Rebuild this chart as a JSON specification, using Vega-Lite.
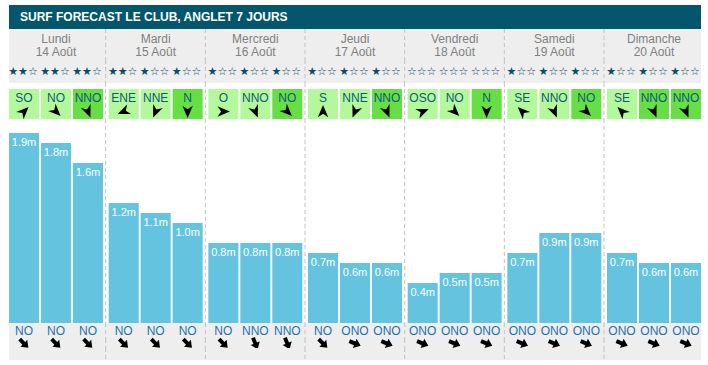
{
  "$schema": "https://vega.github.io/schema/vega-lite/v6.json",
  "padding": {"left": 8, "top": 5, "right": 8, "bottom": 5},
  "background": "white",
  "spacing": 0,
  "bounds": "flush",
  "datasets": {
    "jours": [
      {"jour": "Lundi", "date": "14 Août"},
      {"jour": "Mardi", "date": "15 Août"},
      {"jour": "Mercredi", "date": "16 Août"},
      {"jour": "Jeudi", "date": "17 Août"},
      {"jour": "Vendredi", "date": "18 Août"},
      {"jour": "Samedi", "date": "19 Août"},
      {"jour": "Dimanche", "date": "20 Août"}
    ],
    "creneaux": [
      {"jour": "Lundi", "session": 1, "etoiles": "★★☆", "vent": "SO", "deg_vent": 225, "intensite": "modéré", "houle": 1.9, "dir_houle": "NO", "deg_houle": 315},
      {"jour": "Lundi", "session": 2, "etoiles": "★★☆", "vent": "NO", "deg_vent": 315, "intensite": "modéré", "houle": 1.8, "dir_houle": "NO", "deg_houle": 315},
      {"jour": "Lundi", "session": 3, "etoiles": "★★☆", "vent": "NNO", "deg_vent": 337.5, "intensite": "fort", "houle": 1.6, "dir_houle": "NO", "deg_houle": 315},
      {"jour": "Mardi", "session": 1, "etoiles": "★★☆", "vent": "ENE", "deg_vent": 67.5, "intensite": "modéré", "houle": 1.2, "dir_houle": "NO", "deg_houle": 315},
      {"jour": "Mardi", "session": 2, "etoiles": "★☆☆", "vent": "NNE", "deg_vent": 22.5, "intensite": "modéré", "houle": 1.1, "dir_houle": "NO", "deg_houle": 315},
      {"jour": "Mardi", "session": 3, "etoiles": "★☆☆", "vent": "N", "deg_vent": 0, "intensite": "fort", "houle": 1.0, "dir_houle": "NO", "deg_houle": 315},
      {"jour": "Mercredi", "session": 1, "etoiles": "★☆☆", "vent": "O", "deg_vent": 270, "intensite": "modéré", "houle": 0.8, "dir_houle": "NO", "deg_houle": 315},
      {"jour": "Mercredi", "session": 2, "etoiles": "★☆☆", "vent": "NNO", "deg_vent": 337.5, "intensite": "modéré", "houle": 0.8, "dir_houle": "NNO", "deg_houle": 337.5},
      {"jour": "Mercredi", "session": 3, "etoiles": "★☆☆", "vent": "NO", "deg_vent": 315, "intensite": "fort", "houle": 0.8, "dir_houle": "NNO", "deg_houle": 337.5},
      {"jour": "Jeudi", "session": 1, "etoiles": "★☆☆", "vent": "S", "deg_vent": 180, "intensite": "modéré", "houle": 0.7, "dir_houle": "NO", "deg_houle": 315},
      {"jour": "Jeudi", "session": 2, "etoiles": "★☆☆", "vent": "NNE", "deg_vent": 22.5, "intensite": "modéré", "houle": 0.6, "dir_houle": "ONO", "deg_houle": 292.5},
      {"jour": "Jeudi", "session": 3, "etoiles": "★☆☆", "vent": "NNO", "deg_vent": 337.5, "intensite": "fort", "houle": 0.6, "dir_houle": "ONO", "deg_houle": 292.5},
      {"jour": "Vendredi", "session": 1, "etoiles": "☆☆☆", "vent": "OSO", "deg_vent": 247.5, "intensite": "modéré", "houle": 0.4, "dir_houle": "ONO", "deg_houle": 292.5},
      {"jour": "Vendredi", "session": 2, "etoiles": "☆☆☆", "vent": "NO", "deg_vent": 315, "intensite": "modéré", "houle": 0.5, "dir_houle": "ONO", "deg_houle": 292.5},
      {"jour": "Vendredi", "session": 3, "etoiles": "☆☆☆", "vent": "N", "deg_vent": 0, "intensite": "fort", "houle": 0.5, "dir_houle": "ONO", "deg_houle": 292.5},
      {"jour": "Samedi", "session": 1, "etoiles": "★☆☆", "vent": "SE", "deg_vent": 135, "intensite": "modéré", "houle": 0.7, "dir_houle": "ONO", "deg_houle": 292.5},
      {"jour": "Samedi", "session": 2, "etoiles": "★☆☆", "vent": "NNO", "deg_vent": 337.5, "intensite": "modéré", "houle": 0.9, "dir_houle": "ONO", "deg_houle": 292.5},
      {"jour": "Samedi", "session": 3, "etoiles": "★☆☆", "vent": "NO", "deg_vent": 315, "intensite": "fort", "houle": 0.9, "dir_houle": "ONO", "deg_houle": 292.5},
      {"jour": "Dimanche", "session": 1, "etoiles": "★☆☆", "vent": "SE", "deg_vent": 135, "intensite": "modéré", "houle": 0.7, "dir_houle": "ONO", "deg_houle": 292.5},
      {"jour": "Dimanche", "session": 2, "etoiles": "★☆☆", "vent": "NNO", "deg_vent": 337.5, "intensite": "fort", "houle": 0.6, "dir_houle": "ONO", "deg_houle": 292.5},
      {"jour": "Dimanche", "session": 3, "etoiles": "★☆☆", "vent": "NNO", "deg_vent": 337.5, "intensite": "fort", "houle": 0.6, "dir_houle": "ONO", "deg_houle": 292.5}
    ]
  },
  "vconcat": [
    {
      "width": 692, "height": 24,
      "view": {"fill": "#03566b", "stroke": null},
      "data": {"values": [{"titre": "SURF FORECAST LE CLUB, ANGLET 7 JOURS"}]},
      "mark": {"type": "text", "align": "left", "baseline": "middle", "dx": 11, "fontWeight": "bold", "fontSize": 12, "color": "white"},
      "encoding": {
        "x": {"datum": 0, "type": "quantitative", "scale": {"domain": [0, 1]}, "axis": null},
        "text": {"field": "titre"}
      }
    },
    {
      "width": 692, "height": 31,
      "view": {"fill": "#eeeeee", "stroke": null},
      "layer": [
        {
          "data": {"name": "jours"},
          "transform": [{"filter": "datum.jour !== 'Lundi'"}],
          "mark": {"type": "rule", "strokeDash": [4, 3], "color": "#c2c2c2", "xOffset": -3},
          "encoding": {"x": {"field": "jour", "type": "nominal", "bandPosition": 0, "scale": {"domain": ["Lundi", "Mardi", "Mercredi", "Jeudi", "Vendredi", "Samedi", "Dimanche"], "paddingInner": 0.0569, "paddingOuter": 0}, "axis": null}}
        },
        {
          "data": {"name": "jours"},
          "mark": {"type": "text", "baseline": "middle", "dy": -6, "fontSize": 12, "color": "#808080"},
          "encoding": {
            "x": {"field": "jour", "type": "nominal", "scale": {"domain": ["Lundi", "Mardi", "Mercredi", "Jeudi", "Vendredi", "Samedi", "Dimanche"], "paddingInner": 0.0569, "paddingOuter": 0}, "axis": null},
            "text": {"field": "jour"}
          }
        },
        {
          "data": {"name": "jours"},
          "mark": {"type": "text", "baseline": "middle", "dy": 7, "fontSize": 12, "color": "#808080"},
          "encoding": {
            "x": {"field": "jour", "type": "nominal", "scale": {"domain": ["Lundi", "Mardi", "Mercredi", "Jeudi", "Vendredi", "Samedi", "Dimanche"], "paddingInner": 0.0569, "paddingOuter": 0}, "axis": null},
            "text": {"field": "date"}
          }
        }
      ]
    },
    {
      "width": 692, "height": 23,
      "view": {"fill": "#eeeeee", "stroke": null},
      "layer": [
        {
          "data": {"name": "jours"},
          "transform": [{"filter": "datum.jour !== 'Lundi'"}],
          "mark": {"type": "rule", "strokeDash": [4, 3], "color": "#c2c2c2", "xOffset": -3},
          "encoding": {"x": {"field": "jour", "type": "nominal", "bandPosition": 0, "scale": {"domain": ["Lundi", "Mardi", "Mercredi", "Jeudi", "Vendredi", "Samedi", "Dimanche"], "paddingInner": 0.0569, "paddingOuter": 0}, "axis": null}}
        },
        {
          "data": {"name": "creneaux"},
          "mark": {"type": "text", "baseline": "middle", "dx": -1, "font": "DejaVu Sans", "fontSize": 11, "color": "#0e4d66"},
          "encoding": {
            "x": {"field": "jour", "type": "nominal", "scale": {"domain": ["Lundi", "Mardi", "Mercredi", "Jeudi", "Vendredi", "Samedi", "Dimanche"], "paddingInner": 0.0569, "paddingOuter": 0}, "axis": null},
            "xOffset": {"field": "session", "type": "nominal", "scale": {"domain": [1, 2, 3], "paddingInner": 0.06, "paddingOuter": 0}},
            "text": {"field": "etoiles"}
          }
        }
      ]
    },
    {
      "width": 692, "height": 6,
      "data": {"name": "jours"},
      "transform": [{"filter": "datum.jour !== 'Lundi'"}],
      "mark": {"type": "rule", "strokeDash": [4, 3], "color": "#c2c2c2", "xOffset": -3},
      "encoding": {"x": {"field": "jour", "type": "nominal", "bandPosition": 0, "scale": {"domain": ["Lundi", "Mardi", "Mercredi", "Jeudi", "Vendredi", "Samedi", "Dimanche"], "paddingInner": 0.0569, "paddingOuter": 0}, "axis": null}}
    },
    {
      "width": 692, "height": 15,
      "layer": [
        {
          "data": {"name": "jours"},
          "transform": [{"filter": "datum.jour !== 'Lundi'"}],
          "mark": {"type": "rule", "strokeDash": [4, 3], "color": "#c2c2c2", "xOffset": -3},
          "encoding": {"x": {"field": "jour", "type": "nominal", "bandPosition": 0, "scale": {"domain": ["Lundi", "Mardi", "Mercredi", "Jeudi", "Vendredi", "Samedi", "Dimanche"], "paddingInner": 0.0569, "paddingOuter": 0}, "axis": null}}
        },
        {
          "data": {"name": "creneaux"},
          "mark": {"type": "bar"},
          "encoding": {
            "x": {"field": "jour", "type": "nominal", "scale": {"domain": ["Lundi", "Mardi", "Mercredi", "Jeudi", "Vendredi", "Samedi", "Dimanche"], "paddingInner": 0.0569, "paddingOuter": 0}, "axis": null},
            "xOffset": {"field": "session", "type": "nominal", "scale": {"domain": [1, 2, 3], "paddingInner": 0.06, "paddingOuter": 0}},
            "color": {"field": "intensite", "type": "nominal", "scale": {"domain": ["modéré", "fort"], "range": ["#b3f99c", "#66df45"]}, "legend": null}
          }
        },
        {
          "data": {"name": "creneaux"},
          "mark": {"type": "text", "baseline": "middle", "dy": 1, "fontSize": 12, "color": "#11587a"},
          "encoding": {
            "x": {"field": "jour", "type": "nominal", "scale": {"domain": ["Lundi", "Mardi", "Mercredi", "Jeudi", "Vendredi", "Samedi", "Dimanche"], "paddingInner": 0.0569, "paddingOuter": 0}, "axis": null},
            "xOffset": {"field": "session", "type": "nominal", "scale": {"domain": [1, 2, 3], "paddingInner": 0.06, "paddingOuter": 0}},
            "text": {"field": "vent"}
          }
        }
      ]
    },
    {
      "width": 692, "height": 15,
      "layer": [
        {
          "data": {"name": "jours"},
          "transform": [{"filter": "datum.jour !== 'Lundi'"}],
          "mark": {"type": "rule", "strokeDash": [4, 3], "color": "#c2c2c2", "xOffset": -3},
          "encoding": {"x": {"field": "jour", "type": "nominal", "bandPosition": 0, "scale": {"domain": ["Lundi", "Mardi", "Mercredi", "Jeudi", "Vendredi", "Samedi", "Dimanche"], "paddingInner": 0.0569, "paddingOuter": 0}, "axis": null}}
        },
        {
          "data": {"name": "creneaux"},
          "mark": {"type": "bar"},
          "encoding": {
            "x": {"field": "jour", "type": "nominal", "scale": {"domain": ["Lundi", "Mardi", "Mercredi", "Jeudi", "Vendredi", "Samedi", "Dimanche"], "paddingInner": 0.0569, "paddingOuter": 0}, "axis": null},
            "xOffset": {"field": "session", "type": "nominal", "scale": {"domain": [1, 2, 3], "paddingInner": 0.06, "paddingOuter": 0}},
            "color": {"field": "intensite", "type": "nominal", "scale": {"domain": ["modéré", "fort"], "range": ["#b3f99c", "#66df45"]}, "legend": null}
          }
        },
        {
          "data": {"name": "creneaux"},
          "mark": {"type": "point", "shape": "M0,-1L0.8,0.9L0,0.35L-0.8,0.9Z", "filled": true, "color": "#000000", "opacity": 1, "size": 170},
          "encoding": {
            "x": {"field": "jour", "type": "nominal", "scale": {"domain": ["Lundi", "Mardi", "Mercredi", "Jeudi", "Vendredi", "Samedi", "Dimanche"], "paddingInner": 0.0569, "paddingOuter": 0}, "axis": null},
            "xOffset": {"field": "session", "type": "nominal", "scale": {"domain": [1, 2, 3], "paddingInner": 0.06, "paddingOuter": 0}},
            "angle": {"field": "deg_vent", "type": "quantitative", "scale": {"domain": [0, 360], "range": [180, 540]}, "legend": null}
          }
        }
      ]
    },
    {
      "width": 692, "height": 204,
      "layer": [
        {
          "data": {"name": "jours"},
          "transform": [{"filter": "datum.jour !== 'Lundi'"}],
          "mark": {"type": "rule", "strokeDash": [4, 3], "color": "#c2c2c2", "xOffset": -3},
          "encoding": {"x": {"field": "jour", "type": "nominal", "bandPosition": 0, "scale": {"domain": ["Lundi", "Mardi", "Mercredi", "Jeudi", "Vendredi", "Samedi", "Dimanche"], "paddingInner": 0.0569, "paddingOuter": 0}, "axis": null}}
        },
        {
          "data": {"name": "creneaux"},
          "mark": {"type": "bar", "color": "#64c4df"},
          "encoding": {
            "x": {"field": "jour", "type": "nominal", "scale": {"domain": ["Lundi", "Mardi", "Mercredi", "Jeudi", "Vendredi", "Samedi", "Dimanche"], "paddingInner": 0.0569, "paddingOuter": 0}, "axis": null},
            "xOffset": {"field": "session", "type": "nominal", "scale": {"domain": [1, 2, 3], "paddingInner": 0.06, "paddingOuter": 0}},
            "y": {"field": "houle", "type": "quantitative", "scale": {"domain": [0, 2.04], "nice": false, "zero": true}, "axis": null}
          }
        },
        {
          "data": {"name": "creneaux"},
          "mark": {"type": "text", "baseline": "top", "dy": 4, "fontSize": 11, "color": "white"},
          "encoding": {
            "x": {"field": "jour", "type": "nominal", "scale": {"domain": ["Lundi", "Mardi", "Mercredi", "Jeudi", "Vendredi", "Samedi", "Dimanche"], "paddingInner": 0.0569, "paddingOuter": 0}, "axis": null},
            "xOffset": {"field": "session", "type": "nominal", "scale": {"domain": [1, 2, 3], "paddingInner": 0.06, "paddingOuter": 0}},
            "y": {"field": "houle", "type": "quantitative", "scale": {"domain": [0, 2.04], "nice": false, "zero": true}, "axis": null},
            "text": {"field": "houle", "type": "quantitative", "format": "$.1f"}
          }
        }
      ]
    },
    {
      "width": 692, "height": 16,
      "view": {"fill": "#eeeeee", "stroke": null},
      "layer": [
        {
          "data": {"name": "jours"},
          "transform": [{"filter": "datum.jour !== 'Lundi'"}],
          "mark": {"type": "rule", "strokeDash": [4, 3], "color": "#c2c2c2", "xOffset": -3},
          "encoding": {"x": {"field": "jour", "type": "nominal", "bandPosition": 0, "scale": {"domain": ["Lundi", "Mardi", "Mercredi", "Jeudi", "Vendredi", "Samedi", "Dimanche"], "paddingInner": 0.0569, "paddingOuter": 0}, "axis": null}}
        },
        {
          "data": {"name": "creneaux"},
          "mark": {"type": "text", "baseline": "middle", "fontSize": 12, "color": "#1f72aa"},
          "encoding": {
            "x": {"field": "jour", "type": "nominal", "scale": {"domain": ["Lundi", "Mardi", "Mercredi", "Jeudi", "Vendredi", "Samedi", "Dimanche"], "paddingInner": 0.0569, "paddingOuter": 0}, "axis": null},
            "xOffset": {"field": "session", "type": "nominal", "scale": {"domain": [1, 2, 3], "paddingInner": 0.06, "paddingOuter": 0}},
            "text": {"field": "dir_houle"}
          }
        }
      ]
    },
    {
      "width": 692, "height": 9,
      "view": {"fill": "#eeeeee", "stroke": null},
      "layer": [
        {
          "data": {"name": "jours"},
          "transform": [{"filter": "datum.jour !== 'Lundi'"}],
          "mark": {"type": "rule", "strokeDash": [4, 3], "color": "#c2c2c2", "xOffset": -3},
          "encoding": {"x": {"field": "jour", "type": "nominal", "bandPosition": 0, "scale": {"domain": ["Lundi", "Mardi", "Mercredi", "Jeudi", "Vendredi", "Samedi", "Dimanche"], "paddingInner": 0.0569, "paddingOuter": 0}, "axis": null}}
        },
        {
          "data": {"name": "creneaux"},
          "mark": {"type": "point", "shape": "M-0.32,1L0.32,1L0.32,0.05L0.8,0.05L0,-1L-0.8,0.05L-0.32,0.05Z", "filled": true, "color": "#000000", "opacity": 1, "size": 150},
          "encoding": {
            "x": {"field": "jour", "type": "nominal", "scale": {"domain": ["Lundi", "Mardi", "Mercredi", "Jeudi", "Vendredi", "Samedi", "Dimanche"], "paddingInner": 0.0569, "paddingOuter": 0}, "axis": null},
            "xOffset": {"field": "session", "type": "nominal", "scale": {"domain": [1, 2, 3], "paddingInner": 0.06, "paddingOuter": 0}},
            "angle": {"field": "deg_houle", "type": "quantitative", "scale": {"domain": [0, 360], "range": [180, 540]}, "legend": null}
          }
        }
      ]
    },
    {
      "width": 692, "height": 12,
      "view": {"fill": "#eeeeee", "stroke": null},
      "data": {"name": "jours"},
      "transform": [{"filter": "datum.jour !== 'Lundi'"}],
      "mark": {"type": "rule", "strokeDash": [4, 3], "color": "#c2c2c2", "xOffset": -3},
      "encoding": {"x": {"field": "jour", "type": "nominal", "bandPosition": 0, "scale": {"domain": ["Lundi", "Mardi", "Mercredi", "Jeudi", "Vendredi", "Samedi", "Dimanche"], "paddingInner": 0.0569, "paddingOuter": 0}, "axis": null}}
    }
  ],
  "config": {
    "font": "Liberation Sans",
    "view": {"stroke": null},
    "concat": {"spacing": 0},
    "locale": {"number": {"decimal": ".", "thousands": ",", "grouping": [3], "currency": ["", "m"]}}
  }
}
